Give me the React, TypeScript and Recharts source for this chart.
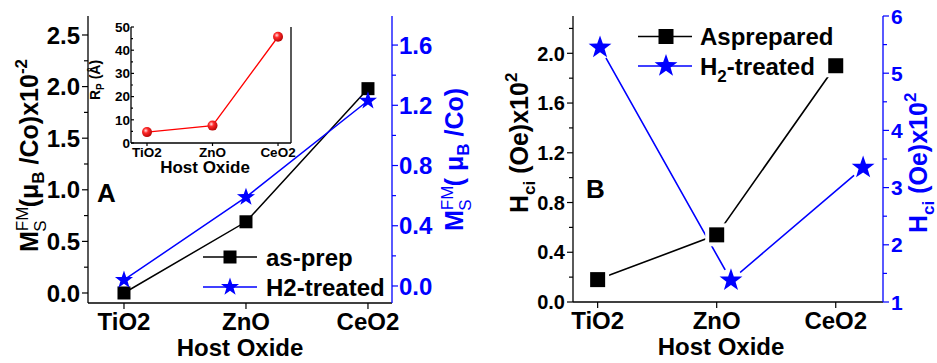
import React from 'react';
import { LineChart, Line, XAxis, YAxis } from 'recharts';

const hostOxides = ['TiO2', 'ZnO', 'CeO2'];
const hostIndex = [0, 1, 2];

// Panel A: saturation magnetisation
const msAsPrep = [0.0, 0.69, 1.98];
const msH2 = [0.04, 0.59, 1.23];

// Inset: Rp (Å)
const rpValues = [4.7, 7.5, 45.8];

// Panel B: coercivity
const hciAsPrep = [0.18, 0.54, 1.9];
const hciH2 = [5.45, 1.38, 3.35];
const hciH2Pos = [0.02, 1.12, 2.23];

// Tick values and labels
const ticksALeft = [0, 0.25, 0.5, 0.75, 1.0, 1.25, 1.5, 1.75, 2.0, 2.25, 2.5];
const labelsALeft = ['0.0', '', '0.5', '', '1.0', '', '1.5', '', '2.0', '', '2.5'];
const ticksARight = [0, 0.2, 0.4, 0.6, 0.8, 1.0, 1.2, 1.4, 1.6];
const labelsARight = ['0.0', '', '0.4', '', '0.8', '', '1.2', '', '1.6'];
const ticksBLeft = [0, 0.2, 0.4, 0.6, 0.8, 1.0, 1.2, 1.4, 1.6, 1.8, 2.0, 2.2];
const labelsBLeft = ['0.0', '', '0.4', '', '0.8', '', '1.2', '', '1.6', '', '2.0', ''];
const ticksBRight = [1, 1.5, 2, 2.5, 3, 3.5, 4, 4.5, 5, 5.5, 6];
const labelsBRight = ['1', '', '2', '', '3', '', '4', '', '5', '', '6'];
const ticksInset = [0, 5, 10, 15, 20, 25, 30, 35, 40, 45, 50];
const labelsInset = ['0', '', '10', '', '20', '', '30', '', '40', '', '50'];

const FONT = '"Liberation Sans", Arial, Helvetica, sans-serif';
const BLUE = '#0000ff';
const RED = '#ff0000';

type TickOpts = {
  side: 'left' | 'right' | 'bottom' | 'top';
  labels?: string[];
  color: string;
  fontSize: number;
  major: number;
  minor: number;
  gap: number;
  inward?: boolean;
};

function makeTick(o: TickOpts) {
  return (props: any) => {
    const { x, y, index } = props;
    const label = o.labels ? o.labels[index] ?? '' : '';
    const isMajor = !o.labels || label !== '';
    const len = isMajor ? o.major : o.minor;
    const common = { fill: o.color, fontSize: o.fontSize, fontWeight: 700, fontFamily: FONT };
    if (o.side === 'left') {
      const x2 = o.inward ? x + len : x - len;
      const tx = (o.inward ? x : x2) - o.gap;
      return (
        <g>
          <line x1={x} y1={y} x2={x2} y2={y} stroke={o.color} strokeWidth={1.2} />
          {label && <text x={tx} y={y} dy="0.36em" textAnchor="end" {...common}>{label}</text>}
        </g>
      );
    }
    if (o.side === 'right') {
      const x2 = x + len;
      return (
        <g>
          <line x1={x} y1={y} x2={x2} y2={y} stroke={o.color} strokeWidth={1.2} />
          {label && <text x={x2 + o.gap} y={y} dy="0.36em" textAnchor="start" {...common}>{label}</text>}
        </g>
      );
    }
    if (o.side === 'top') {
      return <line x1={x} y1={y} x2={x} y2={y + len} stroke={o.color} strokeWidth={1.2} />;
    }
    const y2 = o.inward ? y - len : y + len;
    const ty = (o.inward ? y : y2) + o.gap;
    return (
      <g>
        <line x1={x} y1={y} x2={x} y2={y2} stroke={o.color} strokeWidth={1.2} />
        {label && <text x={x} y={ty} dy="0.72em" textAnchor="middle" {...common}>{label}</text>}
      </g>
    );
  };
}

function starPoints(cx: number, cy: number, R: number) {
  const r = R * 0.4;
  const pts: string[] = [];
  for (let k = 0; k < 10; k++) {
    const ang = -Math.PI / 2 + (k * Math.PI) / 5;
    const rad = k % 2 === 0 ? R : r;
    pts.push(`${cx + rad * Math.cos(ang)},${cy + rad * Math.sin(ang)}`);
  }
  return pts.join(' ');
}

const makeSquare = (size: number, halo: number) => (props: any) => {
  const { cx, cy, index } = props;
  if (cx == null || cy == null) return <g key={index} />;
  return (
    <g key={index}>
      {halo > 0 && (
        <rect x={cx - size / 2 - halo} y={cy - size / 2 - halo} width={size + 2 * halo} height={size + 2 * halo} fill="#fff" />
      )}
      <rect x={cx - size / 2} y={cy - size / 2} width={size} height={size} fill="#000" />
    </g>
  );
};

const makeStar = (R: number, halo: number) => (props: any) => {
  const { cx, cy, index } = props;
  if (cx == null || cy == null) return <g key={index} />;
  return (
    <g key={index}>
      {halo > 0 && <circle cx={cx} cy={cy} r={R * 0.75 + halo} fill="#fff" />}
      <polygon points={starPoints(cx, cy, R)} fill={BLUE} />
    </g>
  );
};

const sphereDot = (props: any) => {
  const { cx, cy, index } = props;
  if (cx == null || cy == null) return <g key={index} />;
  return <circle key={index} cx={cx} cy={cy} r={5} fill="url(#sphereGrad)" />;
};

const axisBlack = { stroke: '#000', strokeWidth: 1.3 };
const axisBlue = { stroke: BLUE, strokeWidth: 1.3 };

export default function App() {
  const dataA = hostIndex.map((x, i) => ({ x, asPrep: msAsPrep[i], h2: msH2[i] }));
  const dataInset = hostIndex.map((x, i) => ({ x, rp: rpValues[i] }));
  const dataBAs = hostIndex.map((x, i) => ({ x, y: hciAsPrep[i] }));
  const dataBH2 = hciH2Pos.map((x, i) => ({ x, y: hciH2[i] }));

  const hostFmt = hostOxides;

  return (
    <div style={{ position: 'absolute', left: 0, top: 0, width: 937, height: 363, background: '#fff', fontFamily: FONT }}>
      {/* Panel A */}
      <div style={{ position: 'absolute', left: 0, top: 0 }}>
        <LineChart width={470} height={363} data={dataA} margin={{ top: 16, right: 0, bottom: 0, left: 0 }}>
          <XAxis xAxisId="b" dataKey="x" type="number" domain={[-0.295, 2.197]} allowDataOverflow ticks={hostIndex} interval={0}
            height={60} tickSize={0} tickMargin={0} tickLine={false} axisLine={axisBlack}
            tick={makeTick({ side: 'bottom', labels: hostFmt, color: '#000', fontSize: 24, major: 6, minor: 4, gap: 4 })} />
          <XAxis xAxisId="t" orientation="top" dataKey="x" type="number" domain={[-0.295, 2.197]} allowDataOverflow ticks={hostIndex} interval={0}
            height={0} tickSize={0} tickMargin={0} tickLine={false} axisLine={axisBlack}
            tick={makeTick({ side: 'top', color: '#000', fontSize: 10, major: 5, minor: 5, gap: 0 })} />
          <YAxis yAxisId="l" type="number" domain={[-0.097, 2.684]} allowDataOverflow ticks={ticksALeft} interval={0}
            width={88} tickSize={0} tickMargin={0} tickLine={false} axisLine={axisBlack}
            tick={makeTick({ side: 'left', labels: labelsALeft, color: '#000', fontSize: 24, major: 6, minor: 4, gap: 2 })} />
          <YAxis yAxisId="r" orientation="right" type="number" domain={[-0.113, 1.793]} allowDataOverflow ticks={ticksARight} interval={0}
            width={78} tickSize={0} tickMargin={0} tickLine={false} axisLine={axisBlue}
            tick={makeTick({ side: 'right', labels: labelsARight, color: BLUE, fontSize: 24, major: 6, minor: 4, gap: 1 })} />
          <Line xAxisId="b" yAxisId="l" dataKey="asPrep" stroke="#000" strokeWidth={1.5} dot={makeSquare(13, 0)} activeDot={false} isAnimationActive={false} />
          <Line xAxisId="b" yAxisId="r" dataKey="h2" stroke={BLUE} strokeWidth={1.5} dot={makeStar(9.5, 0)} activeDot={false} isAnimationActive={false} />
        </LineChart>
      </div>

      {/* Inset */}
      <div style={{ position: 'absolute', left: 90, top: 0 }}>
        <LineChart width={210} height={180} data={dataInset} margin={{ top: 27, right: 0, bottom: 0, left: 0 }}>
          <XAxis xAxisId="b" dataKey="x" type="number" domain={[-0.244, 2.198]} allowDataOverflow ticks={hostIndex} interval={0}
            height={37} tickSize={0} tickMargin={0} tickLine={false} axisLine={axisBlack}
            tick={makeTick({ side: 'bottom', labels: hostFmt, color: '#000', fontSize: 13.5, major: 3, minor: 3, gap: 1 })} />
          <XAxis xAxisId="t" orientation="top" dataKey="x" type="number" domain={[-0.244, 2.198]} allowDataOverflow
            height={0} tick={false} tickLine={false} axisLine={axisBlack} />
          <YAxis yAxisId="l" type="number" domain={[0, 50]} allowDataOverflow ticks={ticksInset} interval={0}
            width={41} tickSize={0} tickMargin={0} tickLine={false} axisLine={axisBlack}
            tick={makeTick({ side: 'left', labels: labelsInset, color: '#000', fontSize: 13.5, major: 3, minor: 2, gap: 1, inward: true })} />
          <YAxis yAxisId="r" orientation="right" type="number" domain={[0, 50]} width={9}
            tick={false} tickLine={false} axisLine={axisBlack} />
          <Line xAxisId="b" yAxisId="l" dataKey="rp" stroke={RED} strokeWidth={1.3} dot={sphereDot} activeDot={false} isAnimationActive={false} />
        </LineChart>
      </div>

      {/* Panel B */}
      <div style={{ position: 'absolute', left: 470, top: 0 }}>
        <LineChart width={467} height={363} margin={{ top: 16, right: 0, bottom: 0, left: 0 }}>
          <XAxis xAxisId="b" dataKey="x" type="number" domain={[-0.207, 2.397]} allowDataOverflow ticks={hostIndex} interval={0}
            height={61} tickSize={0} tickMargin={0} tickLine={false} axisLine={axisBlack}
            tick={makeTick({ side: 'bottom', labels: hostFmt, color: '#000', fontSize: 24, major: 6, minor: 4, gap: 4 })} />
          <XAxis xAxisId="t" orientation="top" dataKey="x" type="number" domain={[-0.207, 2.397]} allowDataOverflow ticks={hostIndex} interval={0}
            height={0} tickSize={0} tickMargin={0} tickLine={false} axisLine={axisBlack}
            tick={makeTick({ side: 'top', color: '#000', fontSize: 10, major: 5, minor: 5, gap: 0 })} />
          <YAxis yAxisId="l" type="number" domain={[0, 2.3]} allowDataOverflow ticks={ticksBLeft} interval={0}
            width={103} tickSize={0} tickMargin={0} tickLine={false} axisLine={axisBlack}
            tick={makeTick({ side: 'left', labels: labelsBLeft, color: '#000', fontSize: 20, major: 6, minor: 4, gap: 2 })} />
          <YAxis yAxisId="r" orientation="right" type="number" domain={[1, 6]} allowDataOverflow ticks={ticksBRight} interval={0}
            width={54} tickSize={0} tickMargin={0} tickLine={false} axisLine={axisBlue}
            tick={makeTick({ side: 'right', labels: labelsBRight, color: BLUE, fontSize: 21, major: 6, minor: 4, gap: 2 })} />
          <Line xAxisId="b" yAxisId="l" data={dataBAs} dataKey="y" stroke="#000" strokeWidth={1.6} dot={makeSquare(15, 4)} activeDot={false} isAnimationActive={false} />
          <Line xAxisId="b" yAxisId="r" data={dataBH2} dataKey="y" stroke={BLUE} strokeWidth={1.6} dot={makeStar(12, 3)} activeDot={false} isAnimationActive={false} />
        </LineChart>
      </div>

      {/* Annotations: titles, legends, panel letters */}
      <svg width={937} height={363} style={{ position: 'absolute', left: 0, top: 0, pointerEvents: 'none', overflow: 'visible' }} fontFamily={FONT}>
        <defs>
          <radialGradient id="sphereGrad" cx="0.38" cy="0.35" r="0.7">
            <stop offset="0" stopColor="#ffe0e0" />
            <stop offset="0.35" stopColor="#ff2a2a" />
            <stop offset="1" stopColor="#b00000" />
          </radialGradient>
        </defs>

        {/* Panel A left title */}
        <text transform="translate(38,252) rotate(-90)" fontSize={25} fontWeight={700} fill="#000">
          <tspan>M</tspan>
          <tspan fontSize={17} fontWeight={400} dy={-10}>FM</tspan>
          <tspan fontSize={17} fontWeight={400} dx={-25} dy={18}>S</tspan>
          <tspan dx={13} dy={-8}>(μ</tspan>
          <tspan fontSize={17} dy={6}>B</tspan>
          <tspan dy={-6}> /Co)x10</tspan>
          <tspan fontSize={17} dy={-11}>-2</tspan>
        </text>

        {/* Panel A right title */}
        <text transform="translate(463,231) rotate(-90)" fontSize={25} fontWeight={700} fill={BLUE}>
          <tspan>M</tspan>
          <tspan fontSize={17} fontWeight={400} dy={-10}>FM</tspan>
          <tspan fontSize={17} fontWeight={400} dx={-25} dy={18}>S</tspan>
          <tspan dx={13} dy={-8}>( μ</tspan>
          <tspan fontSize={17} dy={6}>B</tspan>
          <tspan dy={-6}> /Co)</tspan>
        </text>

        <text x={240} y={356} textAnchor="middle" fontSize={24} fontWeight={700} fill="#000">Host Oxide</text>
        <text x={97} y={202} fontSize={26} fontWeight={700} fill="#000">A</text>

        {/* Inset titles */}
        <text x={205} y={173} textAnchor="middle" fontSize={17} fontWeight={700} fill="#000">Host Oxide</text>
        <text transform="translate(100,100) rotate(-90)" fontSize={14} fontWeight={700} fill="#000">
          <tspan>R</tspan>
          <tspan fontSize={10} dy={4}>P</tspan>
          <tspan dy={-4}> (Å)</tspan>
        </text>

        {/* Panel A legend */}
        <line x1={203} y1={257} x2={257} y2={257} stroke="#000" strokeWidth={1.5} />
        <rect x={230 - 6.5} y={257 - 6.5} width={13} height={13} fill="#000" />
        <text x={266} y={257} dy="0.36em" fontSize={24} fontWeight={700} fill="#000">as-prep</text>
        <line x1={203} y1={287} x2={257} y2={287} stroke={BLUE} strokeWidth={1.5} />
        <polygon points={starPoints(230, 287, 9.5)} fill={BLUE} />
        <text x={266} y={287} dy="0.36em" fontSize={24} fontWeight={700} fill="#000">H2-treated</text>

        {/* Panel B left title */}
        <text transform="translate(528,213) rotate(-90)" fontSize={25} fontWeight={700} fill="#000">
          <tspan>H</tspan>
          <tspan fontSize={17} dy={7}>ci</tspan>
          <tspan dy={-7}> (Oe)x10</tspan>
          <tspan fontSize={17} dy={-11}>2</tspan>
        </text>

        {/* Panel B right title */}
        <text transform="translate(927,233) rotate(-90)" fontSize={25} fontWeight={700} fill={BLUE}>
          <tspan>H</tspan>
          <tspan fontSize={17} dy={7}>ci</tspan>
          <tspan dy={-7}> (Oe)x10</tspan>
          <tspan fontSize={17} dy={-11}>2</tspan>
        </text>

        <text x={721} y={355} textAnchor="middle" fontSize={24} fontWeight={700} fill="#000">Host Oxide</text>
        <text x={586} y={198} fontSize={26} fontWeight={700} fill="#000">B</text>

        {/* Panel B legend */}
        <line x1={638} y1={36.5} x2={692} y2={36.5} stroke="#000" strokeWidth={1.6} />
        <rect x={666 - 7.5} y={36.5 - 7.5} width={15} height={15} fill="#000" />
        <text x={700} y={36.5} dy="0.36em" fontSize={24} fontWeight={700} fill="#000">Asprepared</text>
        <line x1={638} y1={66} x2={692} y2={66} stroke={BLUE} strokeWidth={1.6} />
        <polygon points={starPoints(666, 66, 12)} fill={BLUE} />
        <text x={700} y={66} dy="0.36em" fontSize={24} fontWeight={700} fill="#000">
          <tspan>H</tspan>
          <tspan fontSize={17} dy={7}>2</tspan>
          <tspan dy={-7}>-treated</tspan>
        </text>
      </svg>
    </div>
  );
}
